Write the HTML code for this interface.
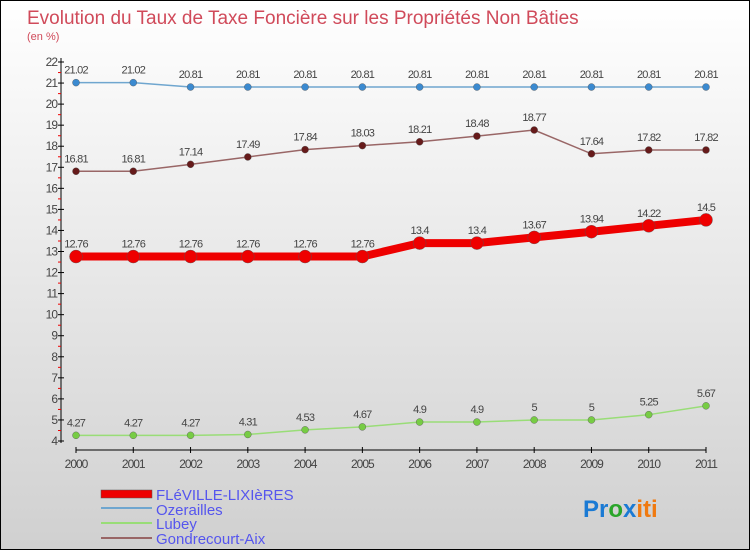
<!DOCTYPE html>
<html><head><meta charset="utf-8"><style>
body{margin:0}
#c{width:748px;height:548px;border:1px solid #000;background:linear-gradient(#fff,#d0d0d0);position:relative;font-family:"Liberation Sans",sans-serif;overflow:hidden}
</style></head><body>
<div id="c">
<svg width="748" height="548" style="position:absolute;left:0;top:0" id="s">
<text x="26" y="23" font-size="19" fill="#d04a5a">Evolution du Taux de Taxe Foncière sur les Propriétés Non Bâties</text>
<text x="26" y="39" font-size="11" fill="#d04a5a">(en %)</text>
<g id="ax"></g><g id="ser"></g>
<g font-size="15" fill="#5555ee">
<rect x="100" y="489" width="51" height="8" fill="#e00" stroke="#555" stroke-width="0.5"/>
<text x="155" y="499">FLéVILLE-LIXIèRES</text>
<line x1="100" y1="507" x2="151" y2="507" stroke="#6fa6cf" stroke-width="2"/>
<text x="155" y="514">Ozerailles</text>
<line x1="100" y1="522" x2="151" y2="522" stroke="#99dd77" stroke-width="2"/>
<text x="155" y="528">Lubey</text>
<line x1="100" y1="537" x2="151" y2="537" stroke="#996666" stroke-width="2"/>
<text x="155" y="543">Gondrecourt-Aix</text>
</g>
<text x="582" y="516" font-size="24" font-weight="bold"><tspan fill="#1a7ad4">Pr</tspan><tspan fill="#2aa52a">o</tspan><tspan fill="#1a7ad4">x</tspan><tspan fill="#f07a10">iti</tspan></text>
</svg></div>
<script>
const years=[2000,2001,2002,2003,2004,2005,2006,2007,2008,2009,2010,2011];
const yTicks=[4,5,6,7,8,9,10,11,12,13,14,15,16,17,18,19,20,21,22];
const fleville=[12.76,12.76,12.76,12.76,12.76,12.76,13.4,13.4,13.67,13.94,14.22,14.5];
const ozerailles=[21.02,21.02,20.81,20.81,20.81,20.81,20.81,20.81,20.81,20.81,20.81,20.81];
const lubey=[4.27,4.27,4.27,4.31,4.53,4.67,4.9,4.9,5,5,5.25,5.67];
const gondrecourt=[16.81,16.81,17.14,17.49,17.84,18.03,18.21,18.48,18.77,17.64,17.82,17.82];
const X=i=>75+i*(630/11), Y=v=>440-(v-4)*(379/18);
const NS="http://www.w3.org/2000/svg";
function mk(p,t,a){const e=document.createElementNS(NS,t);for(const k in a)e.setAttribute(k,a[k]);p.appendChild(e);return e;}
const ax=document.getElementById('ax');
let l=mk(ax,'line',{x1:60,y1:57,x2:60,y2:442,stroke:'#000'});


l=mk(ax,'line',{x1:75,y1:449,x2:705,y2:449,stroke:'#000'});


yTicks.forEach(v=>{const y=Y(v);
mk(ax,'line',{x1:57,y1:y,x2:63,y2:y,stroke:'#000'});
if(v<22)mk(ax,'line',{x1:57,y1:y-10.5,x2:60,y2:y-10.5,stroke:'#e00'});
const t=mk(ax,'text',{x:56,y:y+4,'text-anchor':'end','font-size':12,fill:'#444','letter-spacing':'-1'});t.textContent=v;

});
years.forEach((yr,i)=>{const x=X(i);
mk(ax,'line',{x1:x,y1:446,x2:x,y2:452,stroke:'#000'});
const t=mk(ax,'text',{x:x,y:467,'text-anchor':'middle','font-size':12,fill:'#444','letter-spacing':'-1'});t.textContent=yr;

});
const ser=document.getElementById('ser');
function draw(name,vals,col,dot,w,r){
const g=mk(ser,'g',{});


mk(g,'polyline',{points:vals.map((v,i)=>X(i)+','+Y(v)).join(' '),fill:'none',stroke:col,'stroke-width':w});
vals.forEach((v,i)=>{const c=mk(g,'circle',{cx:X(i),cy:Y(v),r:r,fill:dot,stroke:'#555','stroke-width':0.4});


const t=mk(g,'text',{x:X(i),y:Y(v)-9,'text-anchor':'middle','font-size':11,fill:'#444','letter-spacing':'-0.8'});t.textContent=v;

});}
draw('ozerailles',ozerailles,'#6fa6cf','#3b8ad0',1.5,3.5);
draw('gondrecourt',gondrecourt,'#996666','#661a1a',1.5,3.5);
draw('lubey',lubey,'#99dd77','#77cc44',1.5,3.5);
draw('fleville',fleville,'#ee0000','#ee0000',8,6.5);
</script></body></html>
